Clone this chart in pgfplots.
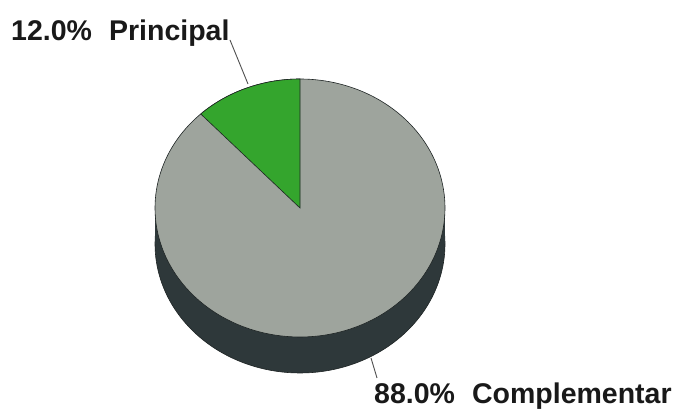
\documentclass[border=0pt]{standalone}
\usepackage{fontspec}
\setmainfont{Liberation Sans}
\usepackage{pgfplots}
\pgfplotsset{compat=1.18}
\definecolor{topgray}{RGB}{158,164,157}
\definecolor{sidegray}{RGB}{46,56,58}
\definecolor{slicegreen}{RGB}{52,165,45}
\definecolor{edge}{RGB}{30,36,36}
\definecolor{lead}{RGB}{80,80,80}
% data: shares in percent
\def\valPrincipal{12.0}
\def\valComplementar{88.0}
\pgfmathsetmacro\angEnd{90+3.6*\valPrincipal}
\begin{document}
\begin{tikzpicture}
\begin{axis}[width=679pt,height=411pt,scale only axis,
  xmin=0,xmax=679,ymin=0,ymax=411,hide axis,clip=false]
\addplot[draw=none] coordinates {(0,0) (679,411)};
% side of the disc
\addplot[fill=sidegray,draw=edge,line width=0.6pt,domain=0:360,samples=181,variable=\t]
  ({300+145*cos(t)},{167+129*sin(t)}) -- cycle;
\addplot[fill=sidegray,draw=none] coordinates {(155,167) (445,167) (445,203) (155,203)} -- cycle;
% top surface (Complementar)
\addplot[fill=topgray,draw=edge,line width=0.6pt,domain=0:360,samples=181,variable=\t]
  ({300+145*cos(t)},{203+129*sin(t)}) -- cycle;
% Principal slice
\addplot[fill=slicegreen,draw=edge,line width=0.6pt,domain=90:\angEnd,samples=40,variable=\t]
  ({300+145*cos(t)},{203+129*sin(t)}) -- (axis cs:300,203) -- cycle;
% leader lines
\addplot[lead,line width=0.9pt] coordinates {(230,371) (248,327)};
\addplot[lead,line width=0.9pt] coordinates {(371,53) (377,33)};
% labels
\node[anchor=base west,text=black!90,font=\fontsize{28.5}{30}\selectfont\bfseries,inner sep=0pt]
  at (axis cs:11,370) {\valPrincipal\%\hspace{0.6em}Principal};
\node[anchor=base west,text=black!90,font=\fontsize{28.5}{30}\selectfont\bfseries,inner sep=0pt]
  at (axis cs:374,7) {\valComplementar\%\hspace{0.6em}Complementar};
\end{axis}
\end{tikzpicture}
\end{document}
